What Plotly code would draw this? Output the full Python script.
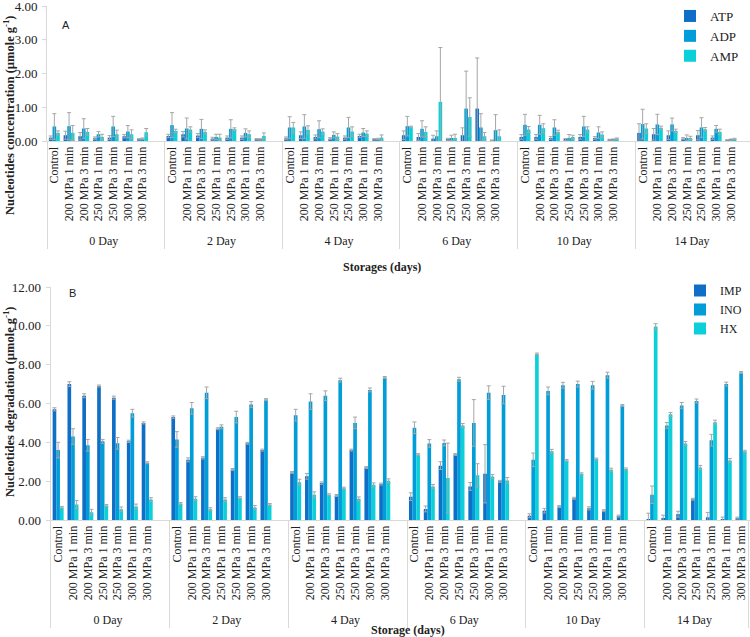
import plotly.graph_objects as go

days = ["0 Day", "2 Day", "4 Day", "6 Day", "10 Day", "14 Day"]
treatments = ["Control", "200 MPa 1 min", "200 MPa 3 min", "250 MPa 1 min",
              "250 MPa 3 min", "300 MPa 1 min", "300 MPa 3 min"]

# Panel A (µmole/g), 7 treatments per day, days in order
atp = [0.10, 0.17, 0.14, 0.08, 0.10, 0.14, 0.05,
       0.15, 0.20, 0.16, 0.07, 0.10, 0.10, 0.05,
       0.08, 0.17, 0.12, 0.07, 0.10, 0.15, 0.05,
       0.17, 0.12, 0.07, 0.05, 0.17, 0.96, 0.02,
       0.12, 0.12, 0.09, 0.04, 0.12, 0.09, 0.03,
       0.24, 0.20, 0.17, 0.07, 0.17, 0.10, 0.02]
atp_err = [0.05, 0.12, 0.11, 0.04, 0.06, 0.05, 0.02,
           0.05, 0.08, 0.06, 0.04, 0.05, 0.05, 0.02,
           0.04, 0.10, 0.06, 0.03, 0.05, 0.05, 0.02,
           0.13, 0.10, 0.10, 0.03, 0.22, 1.50, 0.01,
           0.07, 0.07, 0.04, 0.03, 0.07, 0.04, 0.02,
           0.27, 0.17, 0.13, 0.03, 0.14, 0.05, 0.02]
adp = [0.43, 0.44, 0.37, 0.20, 0.43, 0.28, 0.07,
       0.47, 0.37, 0.36, 0.12, 0.36, 0.24, 0.05,
       0.40, 0.43, 0.35, 0.18, 0.40, 0.25, 0.06,
       0.44, 0.36, 0.14, 0.09, 0.96, 0.40, 0.32,
       0.48, 0.48, 0.40, 0.09, 0.43, 0.25, 0.04,
       0.50, 0.49, 0.49, 0.09, 0.40, 0.36, 0.04]
adp_err = [0.38, 0.40, 0.29, 0.08, 0.30, 0.18, 0.02,
           0.37, 0.31, 0.28, 0.08, 0.27, 0.12, 0.02,
           0.32, 0.35, 0.25, 0.09, 0.30, 0.12, 0.02,
           0.29, 0.24, 0.16, 0.08, 1.11, 0.41, 0.46,
           0.31, 0.28, 0.23, 0.10, 0.30, 0.17, 0.02,
           0.44, 0.30, 0.19, 0.09, 0.29, 0.10, 0.02]
amp = [0.24, 0.24, 0.27, 0.12, 0.20, 0.20, 0.26,
       0.30, 0.34, 0.27, 0.10, 0.35, 0.20, 0.15,
       0.40, 0.33, 0.28, 0.13, 0.28, 0.22, 0.10,
       0.42, 0.27, 1.16, 0.09, 0.71, 0.14, 0.14,
       0.34, 0.38, 0.27, 0.12, 0.34, 0.19, 0.07,
       0.37, 0.39, 0.30, 0.09, 0.35, 0.27, 0.06]
amp_err = [0.06, 0.22, 0.10, 0.08, 0.12, 0.13, 0.11,
           0.05, 0.08, 0.06, 0.10, 0.04, 0.10, 0.09,
           0.15, 0.12, 0.08, 0.09, 0.14, 0.08, 0.08,
           0.02, 0.15, 1.61, 0.11, 0.57, 0.11, 0.19,
           0.09, 0.13, 0.05, 0.05, 0.08, 0.08, 0.02,
           0.14, 0.05, 0.05, 0.05, 0.05, 0.08, 0.02]

# Panel B (µmole/g)
imp = [5.70, 7.00, 6.40, 6.90, 6.30, 4.05, 5.00,
       5.30, 3.10, 3.20, 4.70, 2.60, 3.95, 3.60,
       2.45, 2.25, 1.90, 1.26, 3.60, 2.70, 1.85,
       1.20, 0.57, 2.80, 3.37, 1.73, 2.38, 1.99,
       0.22, 0.48, 0.69, 1.12, 0.60, 0.48, 0.20,
       0.05, 0.10, 0.30, 1.07, 0.14, 0.05, 0.10]
imp_err = [0.08, 0.12, 0.10, 0.05, 0.08, 0.06, 0.05,
           0.06, 0.10, 0.06, 0.05, 0.05, 0.05, 0.05,
           0.05, 0.15, 0.06, 0.05, 0.05, 0.05, 0.05,
           0.20, 0.15, 0.20, 0.05, 0.20, 1.50, 0.05,
           0.10, 0.12, 0.05, 0.05, 0.08, 0.05, 0.05,
           0.30, 0.15, 0.15, 0.05, 0.25, 0.10, 0.05]
ino = [3.60, 4.30, 3.85, 4.05, 3.95, 5.50, 2.95,
       4.15, 5.75, 6.55, 4.80, 5.30, 5.95, 6.20,
       5.40, 6.10, 6.40, 7.20, 5.00, 6.70, 7.34,
       4.75, 3.94, 3.97, 7.25, 5.00, 6.56, 6.44,
       3.10, 6.65, 6.94, 7.00, 6.94, 7.46, 5.90,
       1.30, 4.87, 5.90, 6.13, 4.11, 7.00, 7.60]
ino_err = [0.40, 0.40, 0.30, 0.10, 0.30, 0.20, 0.05,
           0.40, 0.30, 0.30, 0.10, 0.30, 0.15, 0.05,
           0.30, 0.40, 0.25, 0.10, 0.30, 0.10, 0.05,
           0.30, 0.20, 0.15, 0.10, 1.20, 0.35, 0.45,
           0.35, 0.20, 0.15, 0.15, 0.20, 0.15, 0.05,
           0.45, 0.15, 0.15, 0.10, 0.30, 0.10, 0.05]
hx = [0.65, 0.80, 0.40, 0.75, 0.55, 0.70, 1.05,
      0.85, 1.10, 0.55, 1.05, 1.15, 0.65, 0.80,
      1.95, 1.30, 1.30, 1.64, 1.09, 1.81, 2.02,
      3.37, 1.73, 2.16, 4.87, 2.30, 2.24, 2.04,
      8.55, 3.54, 3.07, 2.38, 3.14, 2.59, 2.63,
      9.96, 5.44, 3.94, 2.71, 5.04, 3.07, 3.54]
hx_err = [0.05, 0.20, 0.15, 0.05, 0.12, 0.12, 0.10,
          0.05, 0.10, 0.08, 0.10, 0.05, 0.10, 0.05,
          0.15, 0.15, 0.05, 0.05, 0.10, 0.10, 0.10,
          0.05, 0.10, 1.80, 0.10, 0.60, 0.10, 0.15,
          0.05, 0.10, 0.05, 0.05, 0.05, 0.08, 0.05,
          0.15, 0.10, 0.10, 0.10, 0.10, 0.10, 0.05]

colors = ["#0F6FC6", "#009DD9", "#0BD0D9"]
SERIF = "Liberation Serif, Times New Roman, serif"

# each day group has an empty trailing slot (as in the original spreadsheet)
lvl_day, lvl_trt = [], []
for d in days:
    for t in treatments + [" "]:
        lvl_day.append(d)
        lvl_trt.append(t)
xcat = [lvl_day, lvl_trt]


def expand(vals, fill=None):
    out = []
    for i in range(len(days)):
        out += vals[i * 7:(i + 1) * 7] + [fill]
    return out


fig = go.Figure()
panelA = [("ATP", atp, atp_err), ("ADP", adp, adp_err), ("AMP", amp, amp_err)]
panelB = [("IMP", imp, imp_err), ("INO", ino, ino_err), ("HX", hx, hx_err)]

for (name, v, e), c in zip(panelA, colors):
    fig.add_trace(go.Bar(x=xcat, y=expand(v), name=name, marker_color=c,
                         marker_line_width=0,
                         error_y=dict(type="data", array=expand(e, 0), color="#A6A6A6",
                                      thickness=1, width=2),
                         xaxis="x", yaxis="y", legend="legend"))
for (name, v, e), c in zip(panelB, colors):
    fig.add_trace(go.Bar(x=xcat, y=expand(v), name=name, marker_color=c,
                         marker_line_width=0,
                         error_y=dict(type="data", array=expand(e, 0), color="#A6A6A6",
                                      thickness=1, width=2),
                         xaxis="x2", yaxis="y2", legend="legend2"))

W, H = 750, 637
xa = dict(type="multicategory", tickangle=-90, showgrid=False, automargin=False,
          showline=True, linecolor="#D9D9D9", linewidth=1,
          ticks="", dividercolor="#D9D9D9", dividerwidth=1,
          tickfont=dict(family=SERIF, size=12, color="#222"))
ya = dict(showgrid=False, zeroline=False, showline=True, linecolor="#D9D9D9",
          automargin=False, ticks="outside", ticklen=4, tickcolor="#D9D9D9",
          tickformat=".2f", ticklabelstandoff=2, ticklabeloverflow="allow",
          tickfont=dict(family=SERIF, size=13, color="#222"))

yt_font = dict(family=SERIF, size=12.5, color="#222")
xt_font = dict(family=SERIF, size=12, color="#222")
fig.update_layout(
    width=W, height=H, margin=dict(l=0, r=0, t=0, b=0, autoexpand=False),
    paper_bgcolor="white", plot_bgcolor="white",
    barmode="group", bargap=0.26, bargroupgap=0,
    showlegend=True,
    xaxis=dict(xa, domain=[47 / W, 1], anchor="y", range=[-0.5, 47.3]),
    yaxis=dict(ya, domain=[1 - 141 / H, 1 - 6 / H], anchor="x", range=[0, 4], dtick=1),
    xaxis2=dict(xa, domain=[50.7 / W, 1], anchor="y2", range=[-0.5, 46.6]),
    yaxis2=dict(ya, domain=[1 - 520 / H, 1 - 287 / H], anchor="x2", range=[0, 12], dtick=2),
    legend=dict(x=670 / W, y=1 - 1 / H, xanchor="left", yanchor="top",
                font=dict(family=SERIF, size=13, color="#222"),
                bgcolor="rgba(0,0,0,0)", itemwidth=30, tracegroupgap=0),
    legend2=dict(x=680 / W, y=1 - 276 / H, xanchor="left", yanchor="top",
                 font=dict(family=SERIF, size=12, color="#222"),
                 bgcolor="rgba(0,0,0,0)", itemwidth=30, tracegroupgap=0),
    annotations=[
        dict(text="A", x=66 / W, y=1 - 25 / H, xref="paper", yref="paper",
             xanchor="center", yanchor="middle", showarrow=False,
             font=dict(family="Liberation Sans, Arial", size=11, color="#222")),
        dict(text="B", x=72 / W, y=1 - 293 / H, xref="paper", yref="paper",
             xanchor="center", yanchor="middle", showarrow=False,
             font=dict(family="Liberation Sans, Arial", size=11, color="#222")),
        dict(text="<b>Nucleotides concentration (µmole g<sup>-1</sup>)</b>",
             x=9 / W, y=1 - 115 / H, xref="paper", yref="paper", textangle=-90,
             xanchor="center", yanchor="middle", showarrow=False, font=yt_font),
        dict(text="<b>Nucleotides degradation (µmole g<sup>-1</sup>)</b>",
             x=9 / W, y=1 - 402 / H, xref="paper", yref="paper", textangle=-90,
             xanchor="center", yanchor="middle", showarrow=False, font=yt_font),
        dict(text="<b>Storages (days)</b>", x=382 / W, y=1 - 267 / H,
             xref="paper", yref="paper", xanchor="center", yanchor="middle",
             showarrow=False, font=xt_font),
        dict(text="<b>Storage (days)</b>", x=408 / W, y=1 - 630 / H,
             xref="paper", yref="paper", xanchor="center", yanchor="middle",
             showarrow=False, font=xt_font),
    ],
)

fig.write_html("out.html", config={"displayModeBar": False},
               post_script="document.body.style.margin='0px';document.body.style.overflow='hidden';")
